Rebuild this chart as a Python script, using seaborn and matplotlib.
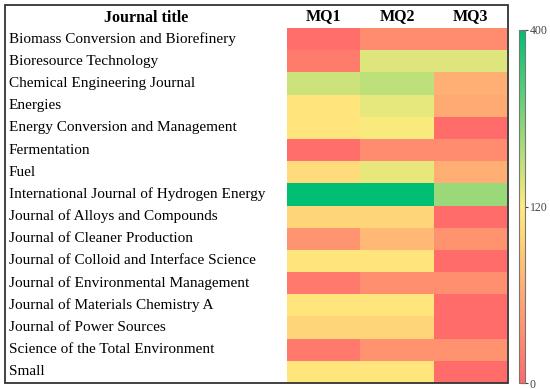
import numpy as np
import pandas as pd
import matplotlib
matplotlib.use("Agg")
import matplotlib.pyplot as plt
import seaborn as sns
from matplotlib.colors import LinearSegmentedColormap, TwoSlopeNorm
from matplotlib.patches import Rectangle

journals = [
    "Biomass Conversion and Biorefinery",
    "Bioresource Technology",
    "Chemical Engineering Journal",
    "Energies",
    "Energy Conversion and Management",
    "Fermentation",
    "Fuel",
    "International Journal of Hydrogen Energy",
    "Journal of Alloys and Compounds",
    "Journal of Cleaner Production",
    "Journal of Colloid and Interface Science",
    "Journal of Environmental Management",
    "Journal of Materials Chemistry A",
    "Journal of Power Sources",
    "Science of the Total Environment",
    "Small",
]
columns = ["MQ1", "MQ2", "MQ3"]
mq1 = [5, 18, 176, 115, 115, 5, 105, 400, 100, 40, 115, 15, 115, 100, 15, 115]
mq2 = [32, 157, 190, 148, 128, 32, 145, 400, 100, 73, 115, 35, 115, 100, 38, 115]
mq3 = [32, 157, 65, 60, 3, 32, 65, 230, 3, 38, 3, 35, 3, 3, 38, 3]
cbar_ticks = [0, 120, 400]

df = pd.DataFrame({"MQ1": mq1, "MQ2": mq2, "MQ3": mq3}, index=journals)[columns]

sns.set_theme(style="white")
plt.rcParams["font.family"] = ["Liberation Serif", "DejaVu Serif"]

W, H = 550, 389
fig = plt.figure(figsize=(W / 100, H / 100), dpi=100)

def fx(px):
    return px / W

def fy(py):
    return 1 - py / H

cmap = LinearSegmentedColormap.from_list(
    "ryg", [(0.0, "#FF6969"), (0.5, "#FFEB7D"), (1.0, "#00BE73")]
)
norm = TwoSlopeNorm(vmin=0, vcenter=120, vmax=400)

ax = fig.add_axes([fx(287), fy(383), fx(507) - fx(287), fy(28) - fy(383)])
cax = fig.add_axes([fx(519), fy(383), fx(525) - fx(519), fy(30) - fy(383)])

sns.heatmap(df, ax=ax, cmap=cmap, norm=norm, cbar=True, cbar_ax=cax,
            linewidths=0, cbar_kws={"ticks": cbar_ticks})

ax.xaxis.tick_top()
ax.set_xticklabels(columns, fontsize=11.5, fontweight="bold", color="black")
ax.tick_params(axis="x", length=0, pad=3)
ax.set_yticklabels(journals, fontsize=11, ha="left", color="black", rotation=0)
ax.tick_params(axis="y", length=0, pad=(287 - 9) * 0.72)
ax.set_xlabel("")
ax.set_ylabel("")

fig.text(fx(146), fy(17.5), "Journal title", ha="center", va="center",
         fontsize=11.5, fontweight="bold", color="black")

fig.patches.append(Rectangle((fx(5), fy(383)), fx(508) - fx(5), fy(5) - fy(383),
                             transform=fig.transFigure, fill=False,
                             edgecolor="#333333", linewidth=1.3))

cax.tick_params(labelsize=8.5, labelcolor="#444444", direction="inout",
                length=4, width=0.8, color="#444444", pad=1.5)
cbar = ax.collections[0].colorbar
cbar.outline.set_edgecolor("#777777")
cbar.outline.set_linewidth(0.8)

fig.savefig("out.png", dpi=100)
